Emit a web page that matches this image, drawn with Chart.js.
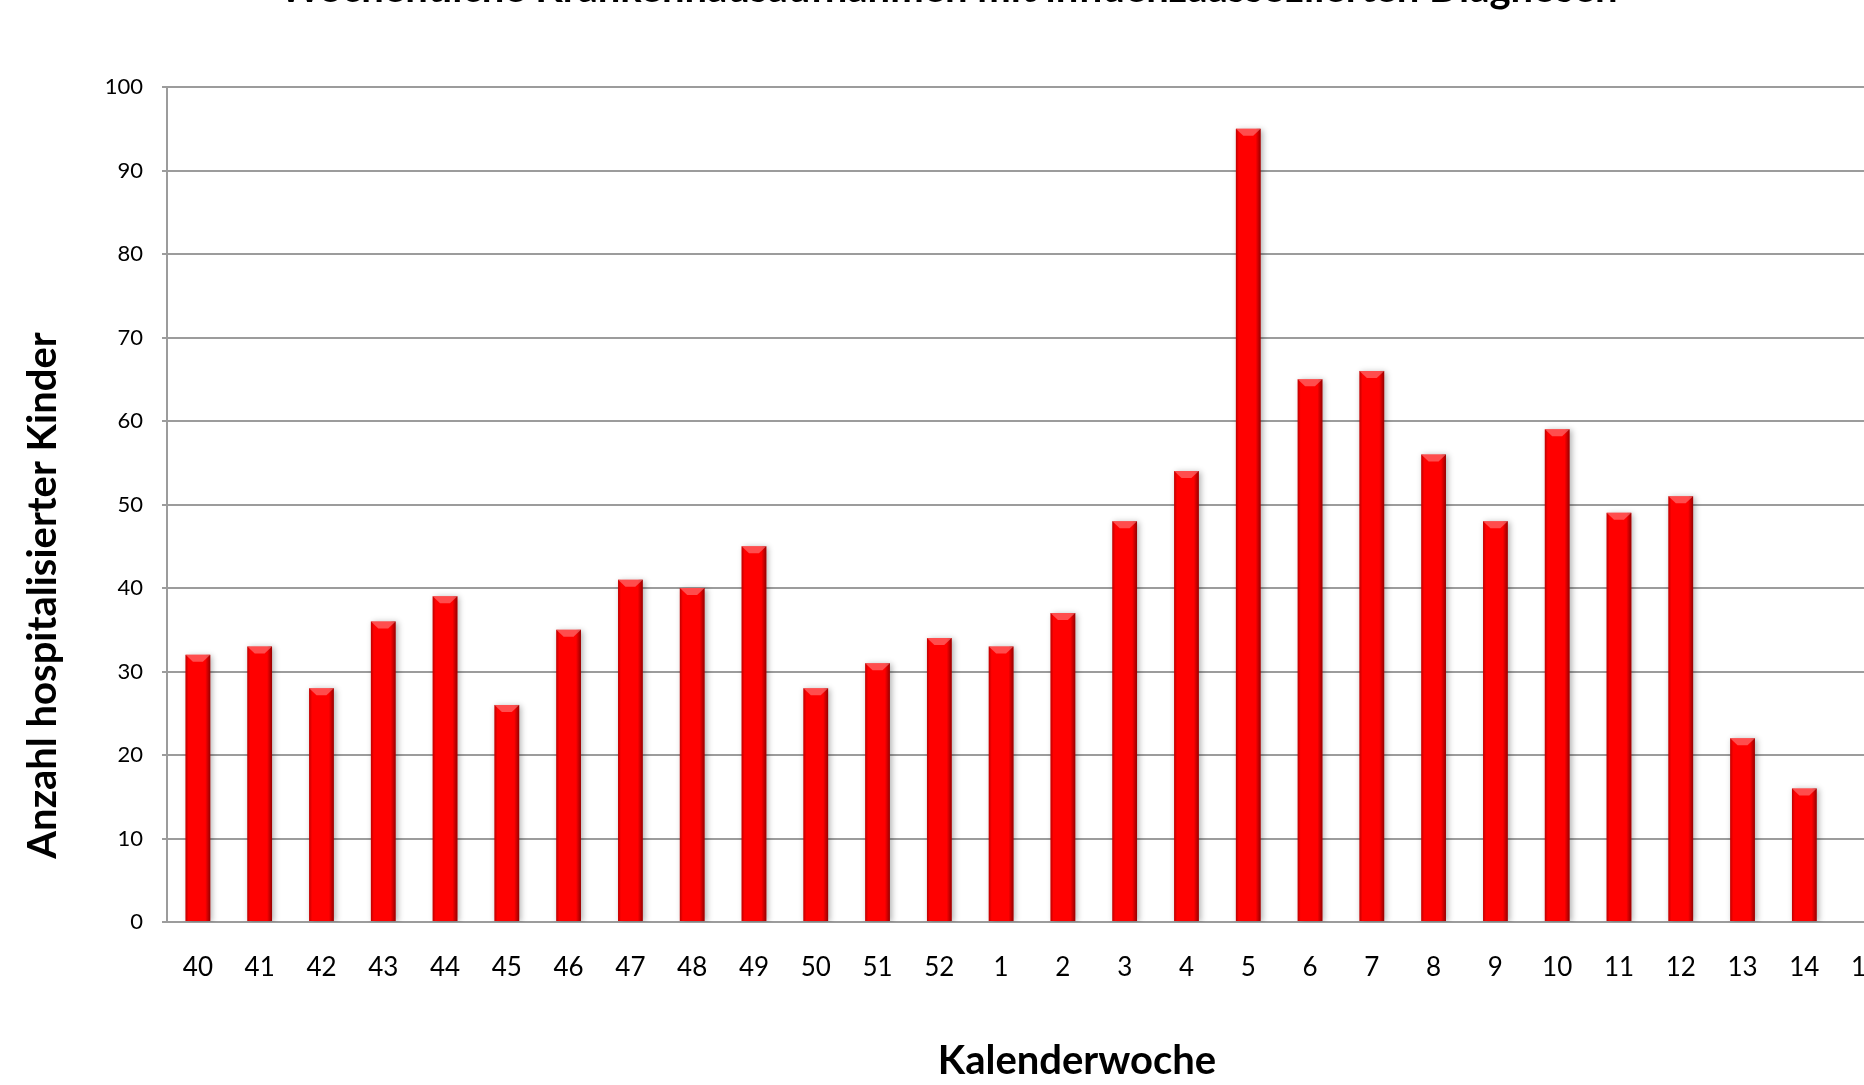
<!DOCTYPE html>
<html>
<head>
<meta charset="utf-8">
<title>Wöchentliche Krankenhausaufnahmen</title>
<script src="https://cdn.jsdelivr.net/npm/chart.js@4"></script>
<style>
  html, body { margin: 0; padding: 0; background: #fff; overflow: hidden; }
  #wrap { position: absolute; left: 0; top: -40px; width: 1930px; height: 1140px; }
</style>
</head>
<body>
<div id="wrap"><canvas id="chart" width="1930" height="1140"></canvas></div>
<script>
const weeks = ["40", "41", "42", "43", "44", "45", "46", "47", "48", "49", "50", "51", "52",
    "1", "2", "3", "4", "5", "6", "7", "8", "9", "10", "11", "12", "13", "14", "15"];
const admissions = [32, 33, 28, 36, 39, 26, 35, 41, 40, 45, 28, 31, 34,
    33, 37, 48, 54, 95, 65, 66, 56, 48, 59, 49, 51, 22, 16, null];
const yTicks = [0, 10, 20, 30, 40, 50, 60, 70, 80, 90, 100];

const titleText = "Wöchentliche Krankenhausaufnahmen mit influenzaassoziierten Diagnosen";
const xTitle = "Kalenderwoche";
const yTitle = "Anzahl hospitalisierter Kinder";
const fontFamily = "Lato, 'Open Sans', sans-serif";
const gridGray = "#9c9c9c";

// bevel look of the bars (shadow + dark sides + light top chevron)
const bevelPlugin = {
    id: "bevel",
    beforeDatasetsDraw(chart) {
        const ctx = chart.ctx;
        ctx.save();
        ctx.shadowColor = "rgba(0,0,0,0.3)";
        ctx.shadowBlur = 6;
        ctx.shadowOffsetX = 2;
        ctx.shadowOffsetY = 1;
    },
    afterDatasetsDraw(chart) {
        const ctx = chart.ctx;
        ctx.restore();
        chart.getDatasetMeta(0).data.forEach(bar => {
            const { x, y, base, width } = bar.getProps(["x", "y", "base", "width"], true);
            if (!isFinite(y) || base - y < 1) return;
            const l = x - width / 2, r = x + width / 2;
            const g = ctx.createLinearGradient(l, 0, r, 0);
            g.addColorStop(0, "rgba(110,0,0,0.45)");
            g.addColorStop(0.12, "rgba(110,0,0,0)");
            g.addColorStop(0.8, "rgba(80,0,0,0)");
            g.addColorStop(1, "rgba(80,0,0,0.6)");
            ctx.fillStyle = g;
            ctx.fillRect(l, y, width, base - y);
            ctx.beginPath();
            ctx.moveTo(l, y);
            ctx.lineTo(r, y);
            ctx.lineTo(x + width * 0.2, y + 7);
            ctx.lineTo(x - width * 0.2, y + 7);
            ctx.closePath();
            ctx.fillStyle = "rgba(255,140,140,0.55)";
            ctx.fill();
        });
    }
};

// axis titles sit off-centre in the original, so place them here
const axisTitles = {
    id: "axisTitles",
    afterDraw(chart) {
        const { ctx, chartArea } = chart;
        ctx.save();
        ctx.fillStyle = "#000";
        ctx.font = "bold 40px " + fontFamily;
        ctx.textAlign = "center";
        ctx.textBaseline = "middle";
        ctx.fillText(xTitle, (chartArea.left + chartArea.right) / 2 + 45, chartArea.bottom + 139);
        ctx.translate(43, (chartArea.top + chartArea.bottom) / 2 + 91);
        ctx.rotate(-Math.PI / 2);
        ctx.fillText(yTitle, 0, 0);
        ctx.restore();
    }
};

new Chart(document.getElementById("chart"), {
    type: "bar",
    data: {
        labels: weeks,
        datasets: [{
            label: "Anzahl",
            data: admissions,
            backgroundColor: "#ff0000",
            borderWidth: 0,
            barPercentage: 0.4,
            categoryPercentage: 1
        }]
    },
    options: {
        responsive: false,
        animation: false,
        layout: { padding: { left: 0, right: 33, top: 0, bottom: 0 } },
        plugins: {
            legend: { display: false },
            tooltip: { enabled: false },
            title: {
                display: true,
                text: titleText,
                color: "#000",
                font: { family: fontFamily, size: 40, weight: "bold" },
                padding: { top: 5, bottom: 74 }
            }
        },
        scales: {
            x: {
                grid: { display: false, drawTicks: false },
                border: { display: true, color: gridGray, width: 2 },
                ticks: {
                    color: "#000",
                    font: { family: fontFamily, size: 26 },
                    padding: 30,
                    maxRotation: 0,
                    autoSkip: false
                },
                afterFit: scale => { scale.height = 178; }
            },
            y: {
                min: 0,
                max: 100,
                afterBuildTicks: scale => { scale.ticks = yTicks.map(v => ({ value: v })); },
                grid: { color: gridGray, lineWidth: 2, tickLength: 5 },
                border: { display: true, color: gridGray, width: 2 },
                ticks: {
                    color: "#000",
                    font: { family: fontFamily, size: 22 },
                    padding: 19
                },
                afterFit: scale => { scale.width = 167; }
            }
        }
    },
    plugins: [bevelPlugin, axisTitles]
});
</script>
</body>
</html>
